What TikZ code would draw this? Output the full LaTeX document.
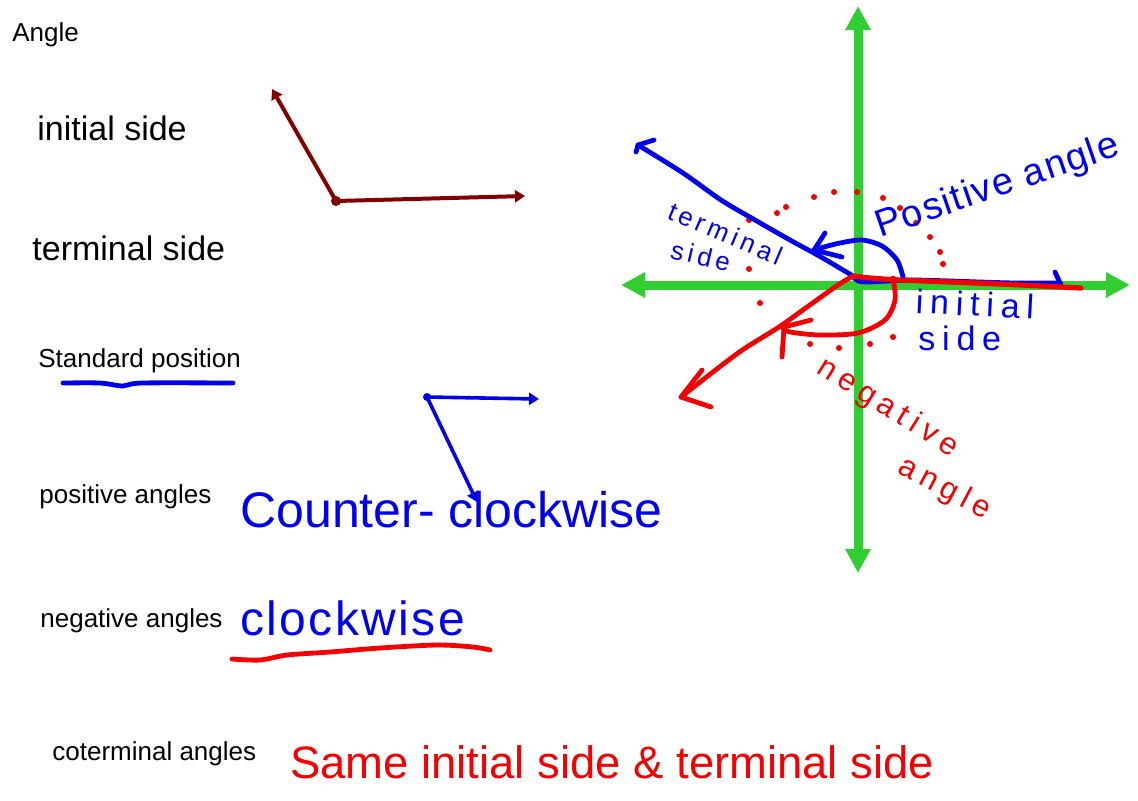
\documentclass[tikz,border=0pt]{standalone}
\usepackage{fontspec}
\setmainfont{Liberation Sans}
\usetikzlibrary{arrows.meta,positioning}
\definecolor{axisgreen}{RGB}{50,205,50}
\definecolor{penblue}{RGB}{0,0,240}
\definecolor{penred}{RGB}{245,0,0}
\definecolor{raybrown}{RGB}{130,0,0}
\newcommand\handsize[2]{\fontsize{#1}{#1}\selectfont\addfontfeatures{LetterSpace=#2}}

\begin{document}
\begin{tikzpicture}[x=0.5pt,y=-0.5pt,line cap=round,line join=round,
  printed/.style={anchor=base west,inner sep=0pt,font=\fontsize{13}{15}\selectfont},
  big printed/.style={printed,font=\fontsize{17}{20}\selectfont},
  hand/.style={anchor=base west,inner sep=0pt},
  axis/.style={axisgreen,line width=4.5pt,line cap=butt,{Triangle[length=12pt,width=12pt]}-{Triangle[length=12pt,width=12pt]}},
  ray/.style={line width=2pt,-{Triangle[length=5pt,width=6pt]}},
  pen/.style={line width=2.4pt},
  vertex/.style={circle,fill,inner sep=0pt,minimum size=5pt},
  spot/.style={circle,fill=penred,inner sep=0pt,minimum size=3pt}]

  \useasboundingbox (0,0) rectangle (1138,800);

  \node[printed] (angle) at (12,41) {Angle};
  \node[big printed] (initial) at (37,140) {initial side};
  \node[big printed] (terminal) at (32,260) {terminal side};
  \node[printed] (standard) at (38,367) {Standard position};
  \node[printed] (positive) at (39,503) {positive angles};
  \node[printed] (negative) at (40,627) {negative angles};
  \node[printed] (coterminal) at (52,760) {coterminal angles};

  \node[vertex,raybrown] (bv) at (336,201) {};
  \coordinate (bup) at (272,89);
  \coordinate (bright) at (525,196);
  \draw[ray,raybrown] (bv.center) -- (bup);
  \draw[ray,raybrown] (bv.center) -- (bright);

  \node[vertex,penblue,minimum size=4pt] (cv) at (427,397) {};
  \coordinate (cright) at (539,399);
  \coordinate (cdown) at (477,502);
  \draw[ray,penblue,line width=1.8pt] (cv.center) -- (cright);
  \draw[ray,penblue,line width=1.8pt] (cv.center) -- (cdown);

  \draw[pen,penblue] plot[smooth] coordinates {(63,383) (100,383) (123,386) (142,383) (233,383)};
  \draw[pen,penred] plot[smooth] coordinates {(232,659) (260,660) (287,655) (330,652) (380,648) (437,645) (473,647) (490,650)};

  \node[hand,penblue,font={\handsize{25}{0}}] (ccw) at (240,527) {Counter- clockwise};
  \node[hand,penblue,font={\handsize{24}{5}}] (cw) at (240,635) {clockwise};
  \node[hand,penred,font={\handsize{22.7}{0}}] (same) at (290,778) {Same initial side \& terminal side};

  \coordinate (ytop) at (858,6);
  \coordinate (ybot) at (858,573);
  \coordinate (xleft) at (621,285);
  \coordinate (xright) at (1130,285);
  \draw[axis] (ybot) -- (ytop);
  \draw[axis] (xleft) -- (xright);

  \coordinate (O) at (853,276);

  \foreach \p [count=\i] in {(749,220),(777,213),(786,207),(814,197),(834,192),(857,192),(883,198),(900,208),(916,223),(930,237),(940,252),(943,264),(749,269),(760,303),(810,344),(839,348),(870,344),(893,337)}
    \node[spot] (dot\i) at \p {};

  \draw[pen,penblue] plot[smooth] coordinates {(O) (821,257) (790,240) (755,220) (721,200) (683,173) (638,145)};
  \draw[pen,penblue] (654,140) -- (638,145) -- (636,152);
  \draw[pen,penblue] plot[smooth] coordinates {(O) (863,282) (911,280) (980,282) (1015,283) (1059,283)};
  \draw[pen,penblue] (1055,272) -- (1061,285);
  \draw[pen,penblue] plot[smooth] coordinates {(903,277) (897,260) (882,246) (862,240) (840,243) (824,247) (814,250)};
  \draw[pen,penblue] (825,233) -- (814,250) -- (842,257);

  \draw[pen,penred,line width=2.6pt] plot[smooth] coordinates {(O) (870,278) (900,280) (950,282) (1000,284) (1081,288)};
  \draw[pen,penred] plot[smooth] coordinates {(O) (838,285) (807,307) (779,327) (738,353) (681,397)};
  \draw[pen,penred] (702,370) -- (681,397) -- (711,407);
  \draw[pen,penred] plot[smooth] coordinates {(893,278) (895,300) (885,320) (858,333) (820,335) (790,332) (783,328)};
  \draw[pen,penred] (811,320) -- (784,327) -- (782,357);

  \node[hand,penblue,rotate=19,font={\handsize{19}{4}}] (poslabel) at (880,238) {Positive angle};
  \node[hand,penblue,rotate=-23,font={\handsize{13}{16}}] (termlabel) at (666,218) {terminal};
  \node[hand,penblue,rotate=-13,font={\handsize{13}{16}}] (termside) at (669,258) {side};
  \node[hand,penblue,rotate=-3,font={\handsize{17}{20}}] (initlabel) at (915,313) {initial};
  \node[hand,penblue,font={\handsize{17}{20}}] (initside) at (918,350) {side};
  \node[hand,penred,rotate=-32,font={\handsize{15.5}{20}}] (neglabel) at (815,372) {negative};
  \node[hand,penred,rotate=-28,font={\handsize{15.5}{20}}] (negangle) at (896,472) {angle};
\end{tikzpicture}
\end{document}
